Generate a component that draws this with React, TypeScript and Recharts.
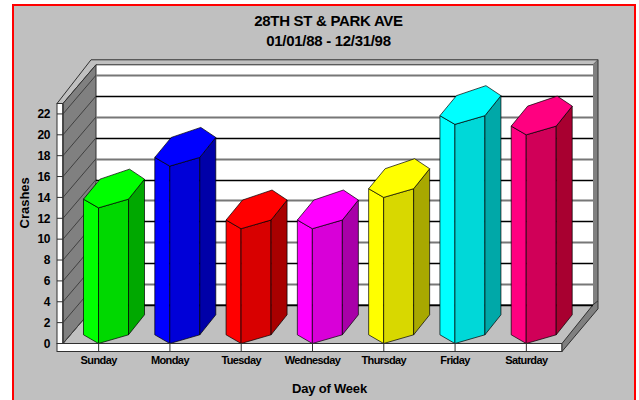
import { Bar, BarChart, ReferenceArea, ReferenceLine, XAxis, YAxis } from "recharts";

const days = ["Sunday", "Monday", "Tuesday", "Wednesday", "Thursday", "Friday", "Saturday"];
const crashes = [13, 17, 11, 11, 14, 21, 20];
const yTicks = [0, 2, 4, 6, 8, 10, 12, 14, 16, 18, 20, 22];

const topColors = ["#00ff00", "#0000ff", "#ff0000", "#ff00ff", "#ffff00", "#00ffff", "#ff0080"];
const frontColors = ["#00d800", "#0000d8", "#d80000", "#d800d8", "#d8d800", "#00d8d8", "#d00058"];
const sideColors = ["#00a800", "#0000a8", "#a80000", "#a800a8", "#a8a800", "#00a8a8", "#a80030"];

const tableData = days.map((day, i) => ({ day, crashes: crashes[i] }));

const font = '"Liberation Sans", Arial, sans-serif';
const edge = "#303030";
const depthX = 33;
const depthY = 38.7;

const pts = (list: number[][]) => list.map((p) => p.join(",")).join(" ");

// backdrop of the fake 3d box, hung off the plot rect
function Walls(props: any) {
  const { x, y, width, height } = props;
  const right = x + width;
  const base = y + height;
  return (
    <g>
      {/* front strips */}
      <rect x={x - 6} y={y} width={6} height={height} fill="#fff" stroke={edge} />
      <rect x={x - 6} y={base} width={width + 6} height={8} fill="#fff" stroke={edge} />
      {/* back wall */}
      <rect x={x + depthX} y={y - depthY} width={width - depthX + 31} height={height} fill="#fff" />
      {/* top rim */}
      <polygon
        points={pts([
          [x - 6, y],
          [x + depthX - 5, y - depthY - 5],
          [right + 36, y - depthY - 5],
          [right + 31, y - depthY],
          [x + depthX, y - depthY],
          [x, y],
        ])}
        fill="#c0c0c0"
        stroke={edge}
      />
      {/* left wall */}
      <polygon
        points={pts([
          [x, y],
          [x + depthX, y - depthY],
          [x + depthX, base - depthY],
          [x, base],
        ])}
        fill="#808080"
        stroke={edge}
      />
      {/* right rim + floor edge */}
      <polygon
        points={pts([
          [right + 31, y - depthY],
          [right + 36, y - depthY - 5],
          [right + 36, base - depthY - 4],
          [right + 31, base - depthY],
        ])}
        fill="#808080"
      />
      <line x1={right + 36} y1={y - depthY - 5} x2={right + 36} y2={base - depthY - 4} stroke={edge} />
      <polygon
        points={pts([
          [right, base],
          [right + 31, base - depthY],
          [right + 36, base - depthY - 4],
          [right + 36, base - depthY + 4],
          [right, base + 8],
        ])}
        fill="#808080"
        stroke={edge}
      />
      <line x1={x + depthX} y1={base - depthY} x2={right + 31} y2={base - depthY} stroke={edge} />
    </g>
  );
}

// one grid level: diagonal on the left wall, straight run on the back wall
function GridLevel(props: any) {
  const { x1, y1, x2, tone, weight } = props;
  const back = Math.round(y1 - depthY) + 0.5;
  return (
    <g>
      <line x1={x1} y1={y1} x2={x1 + depthX} y2={y1 - depthY} stroke="#404040" />
      <line x1={x1 + depthX} y1={back} x2={x2 + 31} y2={back} stroke={tone} strokeWidth={weight} />
    </g>
  );
}

function Prism(props: any) {
  const { x, y, width, height, index } = props;
  const cx = x + width / 2;
  const base = y + height;
  const face = (a: number, b: number, c: number, d: number) =>
    pts([
      [cx + a, y - b],
      [cx + c, y - d],
      [cx + c, base - d],
      [cx + a, base - b],
    ]);
  const stroke = "rgba(0,0,0,0.7)";
  return (
    <g>
      <polygon points={face(-15, 8.7, 0, 0)} fill={topColors[index]} stroke={stroke} />
      <polygon points={face(0, 0, 30, 8.7)} fill={frontColors[index]} stroke={stroke} />
      <polygon points={face(30, 8.7, 46, 28.7)} fill={sideColors[index]} stroke={stroke} />
      <polygon
        points={pts([
          [cx - 15, y - 8.7],
          [cx, y],
          [cx + 30, y - 8.7],
          [cx + 46, y - 28.7],
          [cx + 31, y - 38.7],
          [cx + 1.5, y - 28.7],
        ])}
        fill={topColors[index]}
        stroke={stroke}
      />
    </g>
  );
}

const titleStyle = {
  position: "absolute",
  left: 0,
  width: 657,
  textAlign: "center",
  fontFamily: font,
  fontWeight: 700,
  fontSize: 15,
  letterSpacing: -0.3,
  lineHeight: "20px",
  color: "#000",
} as const;

export default function App() {
  return (
    <div style={{ position: "absolute", left: 0, top: 0, width: 639, height: 400, overflow: "hidden", background: "#fff" }}>
      <div
        style={{
          position: "absolute",
          left: 12,
          top: 4,
          width: 620,
          height: 420,
          background: "#c0c0c0",
          border: "2px solid #ff0000",
        }}
      />
      <div style={{ ...titleStyle, top: 11 }}>28TH ST &amp; PARK AVE</div>
      <div style={{ ...titleStyle, top: 31 }}>01/01/88 - 12/31/98</div>
      <div style={{ position: "absolute", left: 0, top: 0 }}>
        <BarChart
          width={639}
          height={400}
          data={tableData}
          margin={{ top: 103.5, right: 77, bottom: 0, left: 0 }}
          barCategoryGap={0}
        >
          <ReferenceArea y1={0} y2={23} shape={<Walls />} ifOverflow="visible" zIndex={50} />
          {yTicks.map((v) => (
            <ReferenceLine
              key={v}
              y={v}
              ifOverflow="visible"
              zIndex={60}
              shape={(p: any) => {
                const grey = (v / 2) % 2 === 1;
                return <GridLevel {...p} tone={grey ? "#777777" : "#000"} weight={grey ? 2 : 1.3} />;
              }}
            />
          ))}
          <XAxis
            dataKey="day"
            height={56.5}
            interval={0}
            tickLine={{ stroke: edge }}
            axisLine={{ stroke: edge }}
            tickSize={8}
            tickMargin={5}
            tick={{ fill: "#000", fontSize: 11, fontFamily: font, fontWeight: 700, letterSpacing: -0.6 }}
            label={{ value: "Day of Week", position: "insideBottom", offset: 7, dx: 17, fill: "#000", fontSize: 13, fontFamily: font, fontWeight: 700, letterSpacing: -0.2 }}
          />
          <YAxis
            width={63}
            domain={[0, 23]}
            ticks={yTicks}
            interval={0}
            tickLine={{ stroke: edge }}
            axisLine={{ stroke: edge }}
            tickSize={6}
            tickMargin={7}
            tick={{ fill: "#000", fontSize: 12, fontFamily: font, fontWeight: 700, letterSpacing: -0.4 }}
            label={{ value: "Crashes", angle: -90, position: "insideLeft", offset: 24, dy: 5, fill: "#000", fontSize: 13, fontFamily: font, fontWeight: 700 }}
          />
          <Bar dataKey="crashes" barSize={45} shape={<Prism />} isAnimationActive={false} />
        </BarChart>
      </div>
    </div>
  );
}
